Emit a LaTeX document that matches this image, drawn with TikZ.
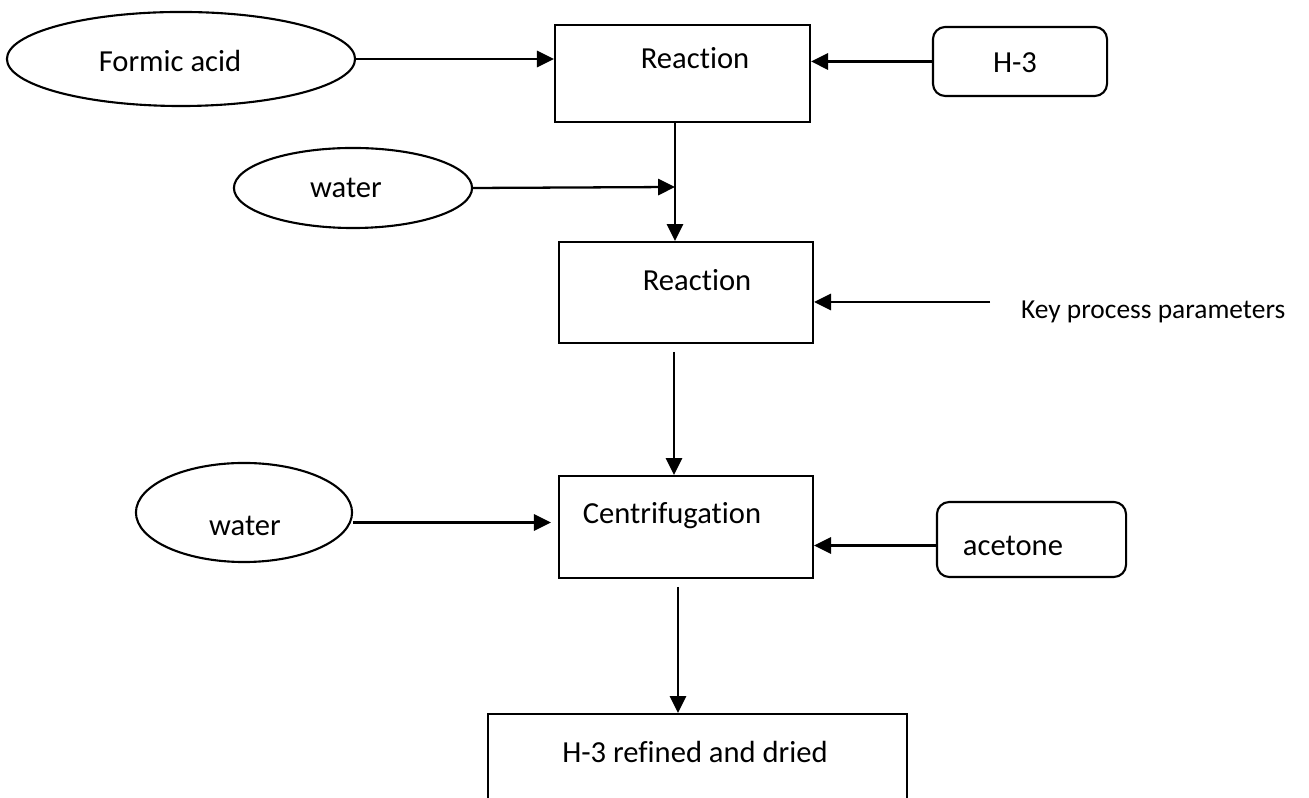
\documentclass[tikz,border=0pt]{standalone}
\usepackage{fontspec}
\setmainfont{Carlito}[Ligatures=NoCommon]
\usetikzlibrary{shapes.geometric,arrows.meta}

\begin{document}
\begin{tikzpicture}
  [x=0.01cm,y=-0.01cm,
   every node/.style={inner sep=0pt,line width=0.6pt},
   txt/.style={font=\fontsize{8.7}{10}\selectfont},
   small/.style={font=\fontsize{7.8}{9}\selectfont},
   feed/.style={ellipse,draw},
   stage/.style={rectangle,draw},
   input/.style={rectangle,rounded corners=3.5pt,draw},
   flow/.style={line width=0.65pt,-{Triangle[length=4.8pt,width=4.6pt]}}]

  \useasboundingbox (0,0) rectangle (1309,798);
  \clip (0,0) rectangle (1309,798);

  % shapes
  \node[feed,minimum width=3.48cm,minimum height=0.94cm] (formic) at (181,59) {};
  \node[stage,minimum width=2.55cm,minimum height=0.97cm] (reac1) at (682.5,73.5) {};
  \node[input,minimum width=1.74cm,minimum height=0.69cm] (h3) at (1020,61.5) {};
  \node[feed,minimum width=2.38cm,minimum height=0.80cm] (water1) at (353,188) {};
  \node[stage,minimum width=2.54cm,minimum height=1.01cm] (reac2) at (686,292.5) {};
  \node[stage,minimum width=2.54cm,minimum height=1.02cm] (centri) at (686,527) {};
  \node[feed,minimum width=2.16cm,minimum height=0.99cm] (water2) at (244,512.5) {};
  \node[input,minimum width=1.89cm,minimum height=0.75cm] (acetone) at (1031.5,539.5) {};
  \node[stage,minimum width=4.19cm,minimum height=1.30cm] (final) at (697.5,779) {};

  % texts
  \node[txt] (formic-t) at (170,61) {Formic acid};
  \node[txt] (reac1-t) at (695,58) {Reaction};
  \node[txt] (h3-t) at (1015,63) {H-3};
  \node[txt] (water1-t) at (346,188) {water};
  \node[txt] (reac2-t) at (697,280) {Reaction};
  \node[small,anchor=west] (key) at (1020,312) {Key process parameters};
  \node[txt] (centri-t) at (672,516) {Centrifugation};
  \node[txt] (water2-t) at (245,526) {water};
  \node[txt] (acetone-t) at (1013,546) {acetone};
  \node[txt] (final-t) at (695,752) {H-3 refined and dried};

  % free ends
  \coordinate (j1) at (675,187);
  \coordinate (j2) at (674,352);
  \coordinate (j3) at (678,587);
  \coordinate (kp) at (990,302);

  \draw[flow] (formic.east) -- (formic.east -| reac1.west);
  \draw[flow] (h3.west) -- (h3.west -| reac1.east);
  \draw[flow] (reac1.south -| j1) -- (reac2.north -| j1);
  \draw[flow] (water1.east) -- (j1);
  \draw[flow] (kp) -- (kp -| reac2.east);
  \draw[flow] (j2) -- (j2 |- centri.north);
  \draw[flow] ([yshift=-0.1cm]water2.east) -- ([yshift=-0.1cm,xshift=-0.07cm]water2.east -| centri.west);
  \draw[flow] ([yshift=-0.06cm]acetone.west) -- ([yshift=-0.06cm]acetone.west -| centri.east);
  \draw[flow] (j3) -- (j3 |- final.north);
\end{tikzpicture}
\end{document}
